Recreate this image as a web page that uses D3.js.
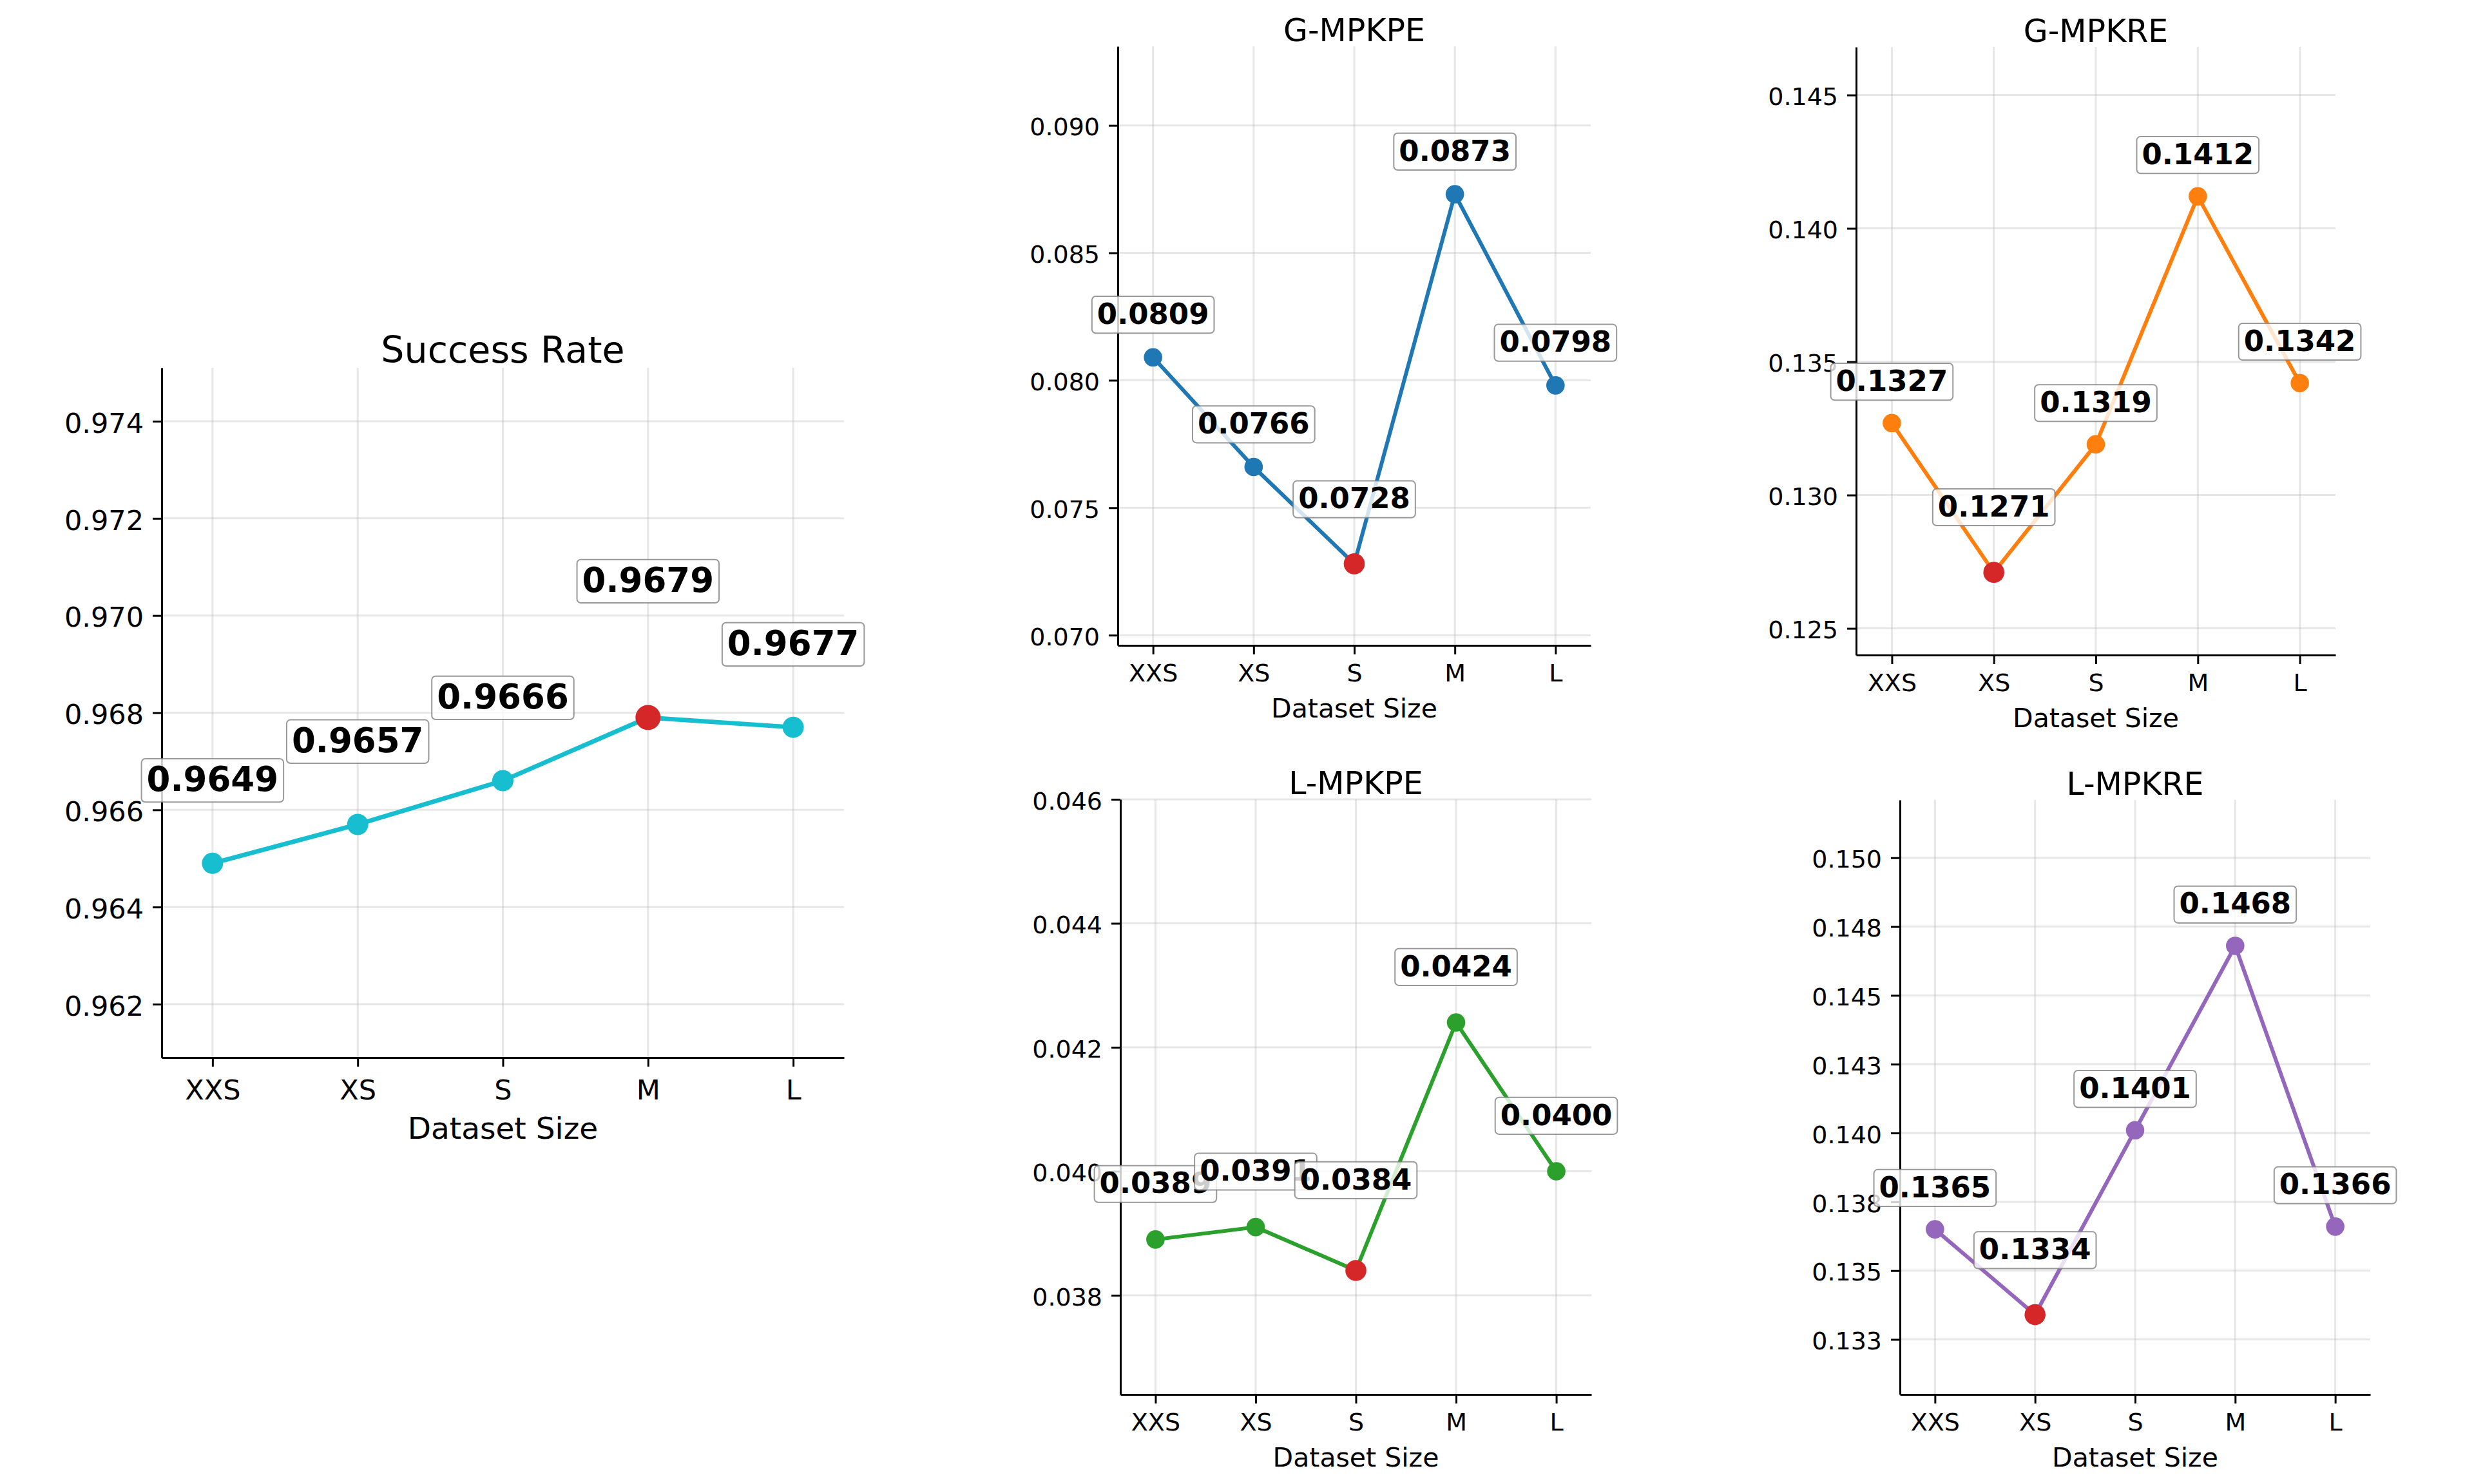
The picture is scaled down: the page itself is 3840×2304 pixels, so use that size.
<!DOCTYPE html>
<html>
<head>
<meta charset="utf-8">
<script src="https://cdn.jsdelivr.net/npm/d3@7"></script>
<style>
    html, body { margin: 0; padding: 0; background: #ffffff; }
    svg text { font-family: "DejaVu Sans", sans-serif; }
</style>
</head>
<body>
<svg id="chart" width="3840" height="2304"></svg>
<script>

// dataset sizes on the x axis
var sizes = [ 'XXS', 'XS', 'S', 'M', 'L' ];

// metric values per dataset size
var successRate = [ 0.9649, 0.9657, 0.9666, 0.9679, 0.9677 ];
var gMpkpe = [ 0.0809, 0.0766, 0.0728, 0.0873, 0.0798 ];
var gMpkre = [ 0.1327, 0.1271, 0.1319, 0.1412, 0.1342 ];
var lMpkpe = [ 0.0389, 0.0391, 0.0384, 0.0424, 0.0400 ];
var lMpkre = [ 0.1365, 0.1334, 0.1401, 0.1468, 0.1366 ];

// y ranges
var srLimits = [ 0.9609, 0.9751 ];
var gpLimits = [ 0.0696, 0.0931 ];
var grLimits = [ 0.1240, 0.1468 ];
var lpLimits = [ 0.0364, 0.0460 ];
var lrLimits = [ 0.1305, 0.1521 ];

// y ticks
var srTicks = [ 0.962, 0.964, 0.966, 0.968, 0.970, 0.972, 0.974 ];
var gpTicks = [ 0.070, 0.075, 0.080, 0.085, 0.090 ];
var grTicks = [ 0.125, 0.130, 0.135, 0.140, 0.145 ];
var lpTicks = [ 0.038, 0.040, 0.042, 0.044, 0.046 ];
var lrTicks = [ 0.1325, 0.1350, 0.1375, 0.1400, 0.1425, 0.1450, 0.1475, 0.1500 ];
var lrTickLabels = [ '0.133', '0.135', '0.138', '0.140', '0.143', '0.145', '0.148', '0.150' ];

var fmt3 = d3.format('.3f');
var fmt4 = d3.format('.4f');

var big = { tick: 43, title: 57, label: 47, annot: 53, xTick: 65, xLabel: 126, lw: 7, r: 16.5, rBest: 19.5 };
var small = { tick: 38, title: 49, label: 41, annot: 45, xTick: 56, xLabel: 112, lw: 6, r: 14.3, rBest: 16.3 };

var panels = [
    { title: 'Success Rate', values: successRate, limits: srLimits, ticks: srTicks, higherBetter: true,
      color: '#17becf', left: 251, right: 1310, top: 571, bottom: 1642, off: 112, offBest: 195, st: big },
    { title: 'G-MPKPE', values: gMpkpe, limits: gpLimits, ticks: gpTicks, higherBetter: false,
      color: '#1f77b4', left: 1735, right: 2469, top: 72, bottom: 1002, off: 52, offBest: 86, st: small },
    { title: 'G-MPKRE', values: gMpkre, limits: grLimits, ticks: grTicks, higherBetter: false,
      color: '#ff7f0e', left: 2881, right: 3625, top: 73, bottom: 1017, off: 50, offBest: 87, st: small },
    { title: 'L-MPKPE', values: lMpkpe, limits: lpLimits, ticks: lpTicks, higherBetter: false,
      color: '#2ca02c', left: 1739, right: 2470, top: 1241, bottom: 2165, off: 72, offBest: 126, st: small },
    { title: 'L-MPKRE', values: lMpkre, limits: lrLimits, ticks: lrTicks, tickLabels: lrTickLabels, higherBetter: false,
      color: '#9467bd', left: 2949, right: 3679, top: 1242, bottom: 2165, off: 50, offBest: 86, st: small }
];

var svg = d3.select('#chart');

svg.append('rect')
    .attr('width', 3840)
    .attr('height', 2304)
    .attr('fill', '#ffffff');

panels.forEach( function ( p ) { drawPanel( p ); });

function drawPanel ( p ) {

    var st = p.st;

    var x = d3.scalePoint()
        .domain( sizes )
        .range([ p.left, p.right ])
        .padding( 0.35 );

    var y = d3.scaleLinear()
        .domain( p.limits )
        .range([ p.bottom, p.top ]);

    var best = p.higherBetter ? d3.maxIndex( p.values ) : d3.minIndex( p.values );

    var g = svg.append('g');

    // grid
    g.selectAll('.vgrid')
        .data( sizes )
        .enter().append('line')
        .attr('x1', function ( d ) { return x( d ); })
        .attr('x2', function ( d ) { return x( d ); })
        .attr('y1', p.top)
        .attr('y2', p.bottom)
        .attr('stroke', '#b0b0b0')
        .attr('stroke-opacity', 0.3)
        .attr('stroke-width', 3);

    g.selectAll('.hgrid')
        .data( p.ticks )
        .enter().append('line')
        .attr('x1', p.left)
        .attr('x2', p.right)
        .attr('y1', function ( d ) { return y( d ); })
        .attr('y2', function ( d ) { return y( d ); })
        .attr('stroke', '#b0b0b0')
        .attr('stroke-opacity', 0.3)
        .attr('stroke-width', 3);

    // axes
    var yAxis = d3.axisLeft( y )
        .tickValues( p.ticks )
        .tickFormat( function ( d, i ) { return p.tickLabels ? p.tickLabels[ i ] : fmt3( d ); })
        .tickSize( 14 )
        .tickSizeOuter( 0 )
        .tickPadding( 14 );

    var gy = g.append('g')
        .attr('transform', 'translate(' + p.left + ',0)')
        .call( yAxis );

    gy.selectAll('.tick text')
        .attr('font-size', st.tick)
        .attr('fill', '#000')
        .attr('dy', '0.40em');

    var xAxis = d3.axisBottom( x )
        .tickSize( 14 )
        .tickSizeOuter( 0 );

    var gx = g.append('g')
        .attr('transform', 'translate(0,' + p.bottom + ')')
        .call( xAxis );

    gx.selectAll('.tick text')
        .attr('font-size', st.tick)
        .attr('fill', '#000')
        .attr('y', st.xTick)
        .attr('dy', 0);

    [ gx, gy ].forEach( function ( a ) {
        a.select('.domain').attr('stroke', '#000').attr('stroke-width', 3);
        a.selectAll('.tick line').attr('stroke', '#000').attr('stroke-width', 3);
    });

    // line + markers
    var line = d3.line()
        .x( function ( d, i ) { return x( sizes[ i ] ); })
        .y( function ( d ) { return y( d ); });

    g.append('path')
        .datum( p.values )
        .attr('d', line)
        .attr('fill', 'none')
        .attr('stroke', p.color)
        .attr('stroke-width', st.lw)
        .attr('stroke-linejoin', 'round');

    g.selectAll('.dot')
        .data( p.values )
        .enter().append('circle')
        .attr('cx', function ( d, i ) { return x( sizes[ i ] ); })
        .attr('cy', function ( d ) { return y( d ); })
        .attr('r', st.r)
        .attr('fill', p.color);

    g.append('circle')
        .attr('cx', x( sizes[ best ] ))
        .attr('cy', y( p.values[ best ] ))
        .attr('r', st.rBest)
        .attr('fill', '#d62728');

    // titles
    g.append('text')
        .attr('x', ( p.left + p.right ) / 2)
        .attr('y', p.top - 8)
        .attr('text-anchor', 'middle')
        .attr('font-size', st.title)
        .text( p.title );

    g.append('text')
        .attr('x', ( p.left + p.right ) / 2)
        .attr('y', p.bottom + st.xLabel)
        .attr('text-anchor', 'middle')
        .attr('font-size', st.label)
        .text('Dataset Size');

    // value labels, drawn in order so later boxes cover earlier ones
    p.values.forEach( function ( v, i ) {

        var cx = x( sizes[ i ] );
        var base = y( v ) - ( i === best ? p.offBest : p.off );
        var f = st.annot;

        var lab = g.append('g');

        var box = lab.append('rect');

        var txt = lab.append('text')
            .attr('x', cx)
            .attr('y', base)
            .attr('text-anchor', 'middle')
            .attr('font-size', f)
            .attr('font-weight', 'bold')
            .attr('fill', '#000')
            .text( fmt4( v ) );

        var w = txt.node().getComputedTextLength() + 16;

        box.attr('x', cx - w / 2)
            .attr('y', base - 0.95 * f)
            .attr('width', w)
            .attr('height', 1.27 * f)
            .attr('rx', 6)
            .attr('fill', '#ffffff')
            .attr('fill-opacity', 0.8)
            .attr('stroke', '#808080')
            .attr('stroke-opacity', 0.8)
            .attr('stroke-width', 2);

    });

}

</script>
</body>
</html>
